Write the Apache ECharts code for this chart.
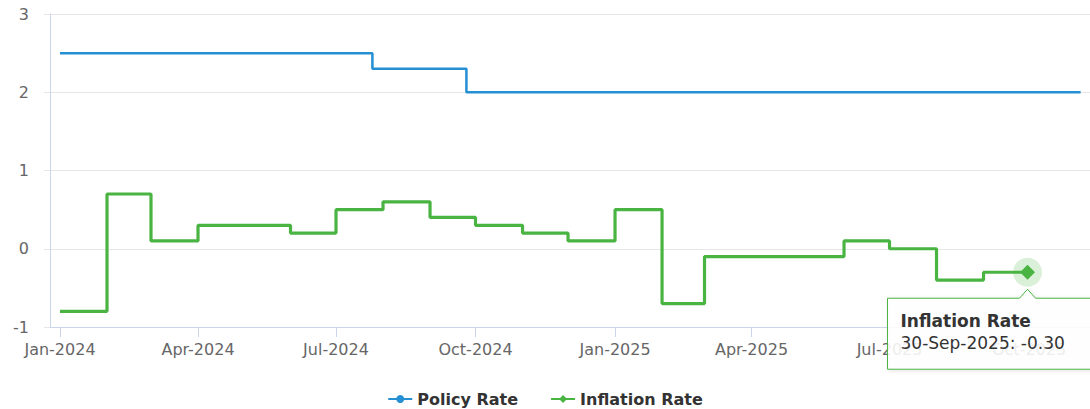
<!DOCTYPE html>
<html>
<head>
<meta charset="utf-8">
<script src="https://cdn.jsdelivr.net/npm/echarts@6/dist/echarts.min.js"></script>
<style>
html,body{margin:0;padding:0;background:#fff;overflow:hidden;}
#chart{width:1090px;height:409px;}
</style>
</head>
<body>
<div id="chart"></div>
<script>
// ---- data ----
var policyDates  = ['2024-01-01','2024-07-25','2024-09-25','2025-11-04'];
var policyValues = [2.5, 2.3, 2.0, 2.0];

var inflationDates = ['2024-01-01','2024-02-01','2024-03-01','2024-04-01','2024-05-01','2024-06-01',
  '2024-07-01','2024-08-01','2024-09-01','2024-10-01','2024-11-01','2024-12-01',
  '2025-01-01','2025-02-01','2025-03-01','2025-04-01','2025-05-01','2025-06-01',
  '2025-07-01','2025-08-01','2025-09-01','2025-09-30'];
var inflationValues = [-0.8, 0.7, 0.1, 0.3, 0.3, 0.2, 0.5, 0.6, 0.4, 0.3, 0.2, 0.1,
  0.5, -0.7, -0.1, -0.1, -0.1, 0.1, 0.0, -0.4, -0.3, -0.3];

var xTickDates = ['2024-01-01','2024-04-01','2024-07-01','2024-10-01',
  '2025-01-01','2025-04-01','2025-07-01','2025-10-01'];
var yTicks = [-1, 0, 1, 2, 3];

var MONTHS = ['Jan','Feb','Mar','Apr','May','Jun','Jul','Aug','Sep','Oct','Nov','Dec'];
function parseDate(s){ var p = s.split('-'); return new Date(+p[0], +p[1]-1, +p[2]).getTime(); }
function fmtMonth(t){ var d = new Date(t); return MONTHS[d.getMonth()] + '-' + d.getFullYear(); }
function fmtDay(t){ var d = new Date(t); var dd = d.getDate(); return (dd<10?'0':'')+dd + '-' + MONTHS[d.getMonth()] + '-' + d.getFullYear(); }

var DAY = 86400000;
var xMin = parseDate('2024-01-01') - 6.6*DAY;
var xMax = parseDate('2024-01-01') + 679.2*DAY;

var BLUE = '#248fd2';
var GREEN = '#4ab443';
var FONT = '"DejaVu Sans", "Open Sans", sans-serif';

var lastIdx = inflationDates.length - 1;
var inflData = inflationDates.map(function(d, i){
  var item = { value: [parseDate(d), inflationValues[i]] };
  if (i === lastIdx) { item.symbol = 'diamond'; item.symbolSize = 15; }
  else { item.symbol = 'none'; }
  return item;
});
var policyData = policyDates.map(function(d, i){ return [parseDate(d), policyValues[i]]; });
var tickTs = xTickDates.map(parseDate);

var chart = echarts.init(document.getElementById('chart'), null, {renderer: 'svg'});
chart.setOption({
  animation: false,
  backgroundColor: '#fff',
  grid: { left: 50, right: 0, top: 14, bottom: 82, containLabel: false },
  legend: {
    data: ['Policy Rate', 'Inflation Rate'],
    top: 386,
    left: 'center',
    itemWidth: 24,
    itemHeight: 10,
    itemGap: 32,
    textStyle: { fontFamily: FONT, fontSize: 16, fontWeight: 'bold', color: '#333' }
  },
  xAxis: {
    type: 'value',
    min: xMin,
    max: xMax,
    axisLine: { onZero: false, lineStyle: { color: '#ccd6eb', width: 1 } },
    axisTick: { show: true, length: 10, lineStyle: { color: '#ccd6eb' }, customValues: tickTs },
    axisLabel: { customValues: tickTs, formatter: function(v){ return fmtMonth(v); },
      color: '#666', fontFamily: FONT, fontSize: 16, margin: 14 },
    splitLine: { show: false }
  },
  yAxis: {
    type: 'value',
    min: yTicks[0],
    max: yTicks[yTicks.length-1],
    interval: 1,
    axisLine: { show: true, lineStyle: { color: '#ccd6eb' } },
    axisTick: { show: true, length: 6, lineStyle: { color: '#e6e6e6' } },
    axisLabel: { color: '#666', fontFamily: FONT, fontSize: 16, margin: 21 },
    splitLine: { lineStyle: { color: '#e6e6e6' } }
  },
  series: [
    {
      name: 'Policy Rate', type: 'line', step: 'end', data: policyData,
      symbol: 'circle', symbolSize: 8, showSymbol: false,
      lineStyle: { color: BLUE, width: 2.5 }, itemStyle: { color: BLUE },
      emphasis: { disabled: true }
    },
    {
      name: 'Inflation Rate', type: 'line', step: 'end', data: inflData,
      symbol: 'diamond', symbolSize: 9, showSymbol: true,
      lineStyle: { color: GREEN, width: 3.2 }, itemStyle: { color: GREEN },
      emphasis: { disabled: true }, z: 3
    },
    {
      name: 'halo', type: 'scatter', silent: true,
      data: [[parseDate(inflationDates[lastIdx]), inflationValues[lastIdx]]],
      symbol: 'circle', symbolSize: 29,
      itemStyle: { color: 'rgba(74,180,67,0.25)' }, z: 2
    }
  ]
});

// tooltip-like callout for the last inflation point
var pt = chart.convertToPixel({seriesIndex: 1}, [parseDate(inflationDates[lastIdx]), inflationValues[lastIdx]]);
var cx = pt[0], cy = pt[1];
var boxTop = cy + 26, boxLeft = cx - 140, boxBottom = boxTop + 71, boxRight = 1120;
chart.setOption({
  graphic: [
    { type: 'polygon', z: 100,
      shape: { points: [[boxLeft, boxTop], [cx - 8, boxTop], [cx, boxTop - 9], [cx + 8, boxTop], [boxRight, boxTop], [boxRight, boxBottom], [boxLeft, boxBottom]] },
      style: { fill: 'rgba(255,255,255,0.88)', stroke: GREEN, lineWidth: 1,
        shadowBlur: 4, shadowColor: 'rgba(0,0,0,0.12)', shadowOffsetX: 1, shadowOffsetY: 1 } },
    { type: 'text', z: 101, x: boxLeft + 13, y: boxTop + 23,
      style: { text: 'Inflation Rate', font: 'bold 17px ' + FONT, fill: '#333', verticalAlign: 'middle' } },
    { type: 'text', z: 101, x: boxLeft + 13, y: boxTop + 45,
      style: { text: fmtDay(parseDate(inflationDates[lastIdx])) + ': ' + inflationValues[lastIdx].toFixed(2),
        font: '17px ' + FONT, fill: '#333', verticalAlign: 'middle' } }
  ]
});
</script>
</body>
</html>
